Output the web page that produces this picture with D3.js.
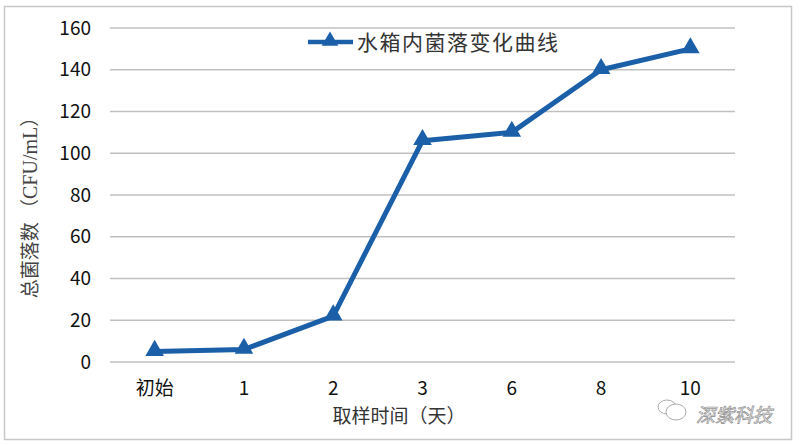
<!DOCTYPE html>
<html><head><meta charset="utf-8">
<script src="https://cdn.jsdelivr.net/npm/d3@7"></script>
<style>body{margin:0;background:#fff}svg{display:block}</style>
</head><body>
<script>
const categories = ["初始","1","2","3","6","8","10"];
const values = [5, 6, 22, 106, 110, 140, 150];
const yTicks = [0,20,40,60,80,100,120,140,160];
const seriesName = "水箱内菌落变化曲线";
const xTitle = "取样时间（天）";
const yTitleCn = "总菌落数 （";
const yTitleUnit = "CFU/mL";
const yTitleEnd = "）";
const watermark = "深紫科技";

const W = 800, H = 446;
const cjk = "'Noto Sans CJK SC','Noto Sans',sans-serif";
const svg = d3.select("body").append("svg").attr("width", W).attr("height", H);
svg.append("rect").attr("x",4.5).attr("y",6.5).attr("width",787).attr("height",433)
  .attr("fill","#fff").attr("stroke","#c8c8c8").attr("stroke-width",1.5);

const m = {left:110, right:735, top:28, bottom:362};
const x = d3.scaleBand().domain(categories).range([m.left, m.right]);
const y = d3.scaleLinear().domain([0,160]).range([m.bottom, m.top]);
const color = "#1a5fa8";

// gridlines
svg.append("g").selectAll("line").data(yTicks).join("line")
  .attr("x1", m.left).attr("x2", m.right)
  .attr("y1", d=>y(d)).attr("y2", d=>y(d))
  .attr("stroke","#c0c0c0").attr("stroke-width",1.5);

// y axis labels
const ya = svg.append("g").attr("transform",`translate(${m.left},0)`)
  .call(d3.axisLeft(y).tickValues(yTicks).tickSize(0).tickPadding(19));
ya.select(".domain").remove();
ya.selectAll("text").attr("font-family",cjk).attr("font-size",19).attr("fill","#111");

// x axis labels
const xa = svg.append("g").attr("transform",`translate(0,${m.bottom})`)
  .call(d3.axisBottom(x).tickSize(0).tickPadding(20));
xa.select(".domain").remove();
xa.selectAll("text").attr("font-family",cjk).attr("font-size",19).attr("fill","#111");

// line
const line = d3.line().x((d,i)=>x(categories[i])+x.bandwidth()/2).y(d=>y(d));
svg.append("path").datum(values).attr("d",line).attr("fill","none")
  .attr("stroke",color).attr("stroke-width",5).attr("stroke-linejoin","round");
const tri = d3.symbol().type(d3.symbolTriangle).size(150);
svg.append("g").selectAll("path").data(values).join("path")
  .attr("d",tri)
  .attr("transform",(d,i)=>`translate(${x(categories[i])+x.bandwidth()/2},${y(d)-1})`)
  .attr("fill",color);

// legend
svg.append("line").attr("x1",308).attr("x2",353).attr("y1",42).attr("y2",42)
  .attr("stroke",color).attr("stroke-width",4.5);
svg.append("path").attr("d",d3.symbol().type(d3.symbolTriangle).size(120)).attr("transform","translate(330,41)").attr("fill",color);
svg.append("text").attr("x",357).attr("y",42).attr("dy","0.36em")
  .attr("font-family",cjk).attr("font-size",21).attr("fill","#333")
  .attr("textLength",201).text(seriesName);

// axis titles
svg.append("text").attr("x",399).attr("y",416).attr("dy","0.36em").attr("text-anchor","middle")
  .attr("font-family",cjk).attr("font-size",19).attr("fill","#333").text(xTitle);
const yt = svg.append("text").attr("transform","translate(30,203) rotate(-90)").attr("dy","0.36em")
  .attr("text-anchor","middle").attr("font-family",cjk).attr("font-size",19).attr("fill","#444");
yt.append("tspan").text(yTitleCn);
yt.append("tspan").attr("font-family","'Liberation Serif',serif").attr("font-size",20).text(yTitleUnit);
yt.append("tspan").text(yTitleEnd);

// watermark
const wm = svg.append("g").attr("fill","none").attr("stroke","#aaa").attr("stroke-width",1);
wm.append("ellipse").attr("cx",667).attr("cy",407).attr("rx",9).attr("ry",7);
wm.append("ellipse").attr("cx",676).attr("cy",412).attr("rx",10).attr("ry",8).attr("fill","#fff");
svg.append("text").attr("x",696).attr("y",415).attr("dy","0.36em")
  .attr("font-family",cjk).attr("font-size",19).attr("fill","#fff")
  .attr("stroke","#999").attr("stroke-width",0.8).attr("font-style","italic").text(watermark);
</script>
</body></html>
